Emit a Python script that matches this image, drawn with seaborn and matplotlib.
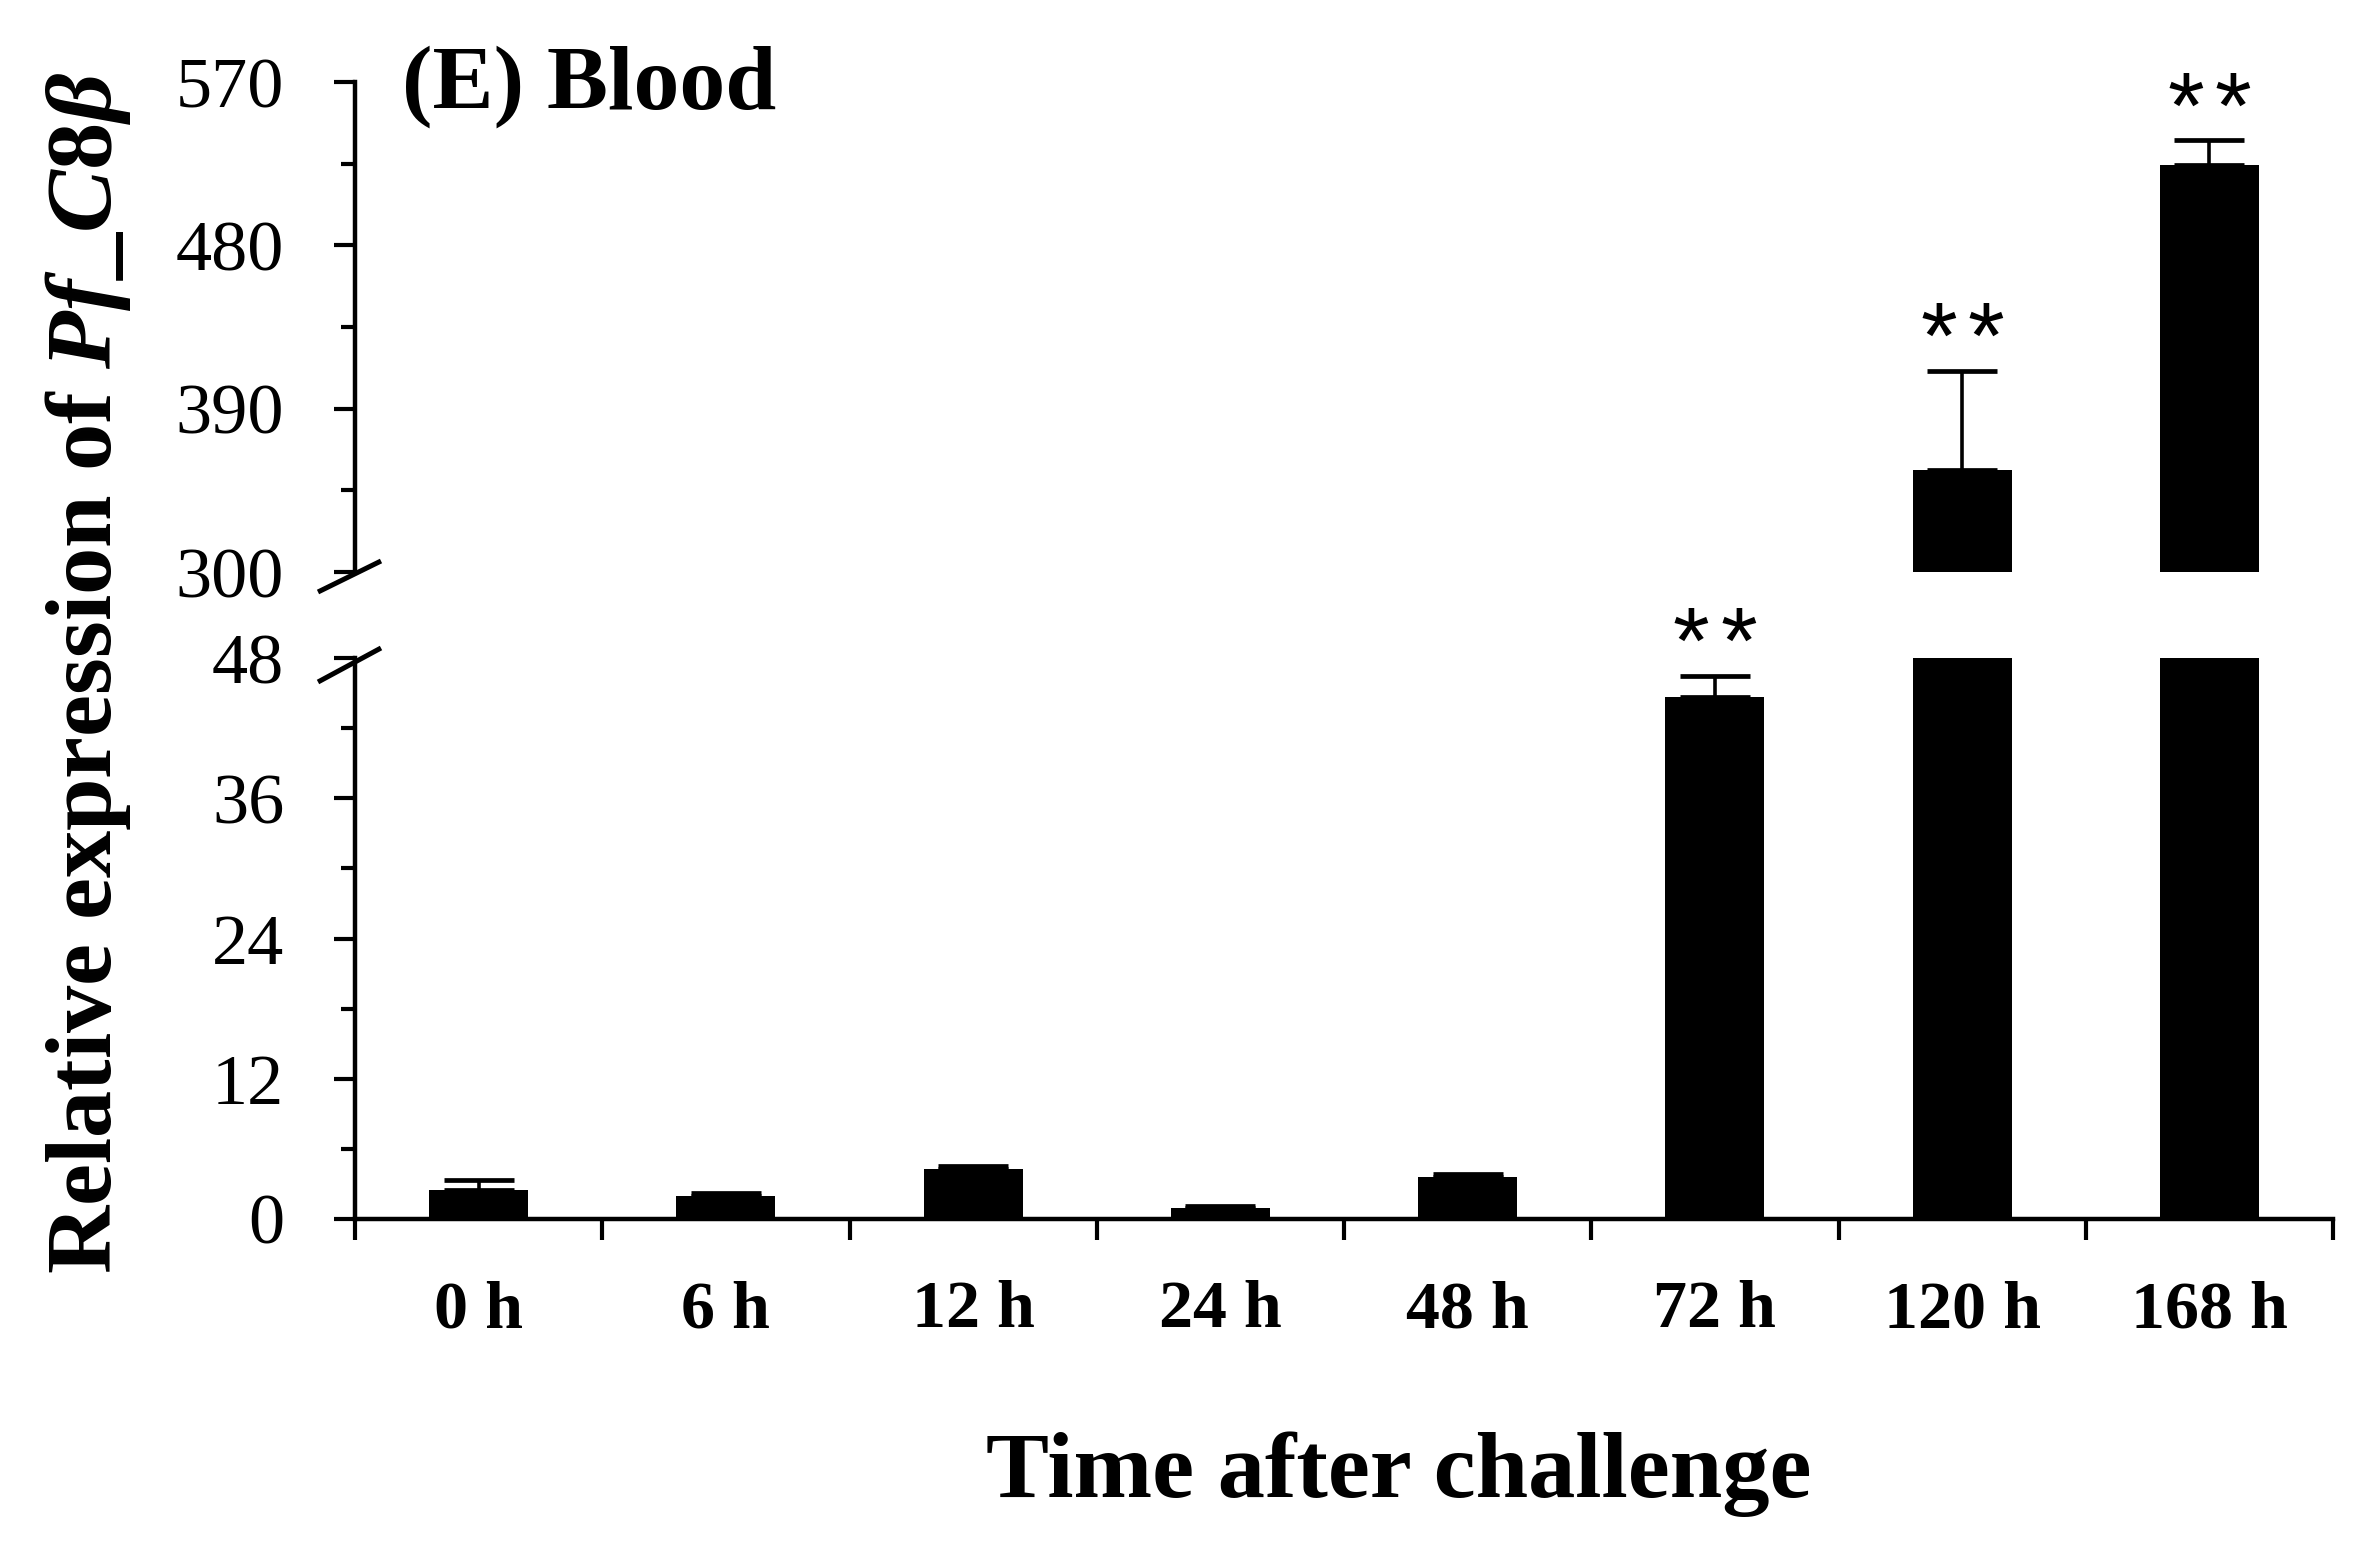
import numpy as np
import pandas as pd
import matplotlib
matplotlib.use("Agg")
import matplotlib.pyplot as plt
import seaborn as sns
from matplotlib.lines import Line2D

# values (mean and upper SD)
times = ["0 h", "6 h", "12 h", "24 h", "48 h", "72 h", "120 h", "168 h"]
expression = [2.5, 2.0, 4.3, 0.9, 3.6, 44.7, 356, 524]
sd = [0.8, 0.2, 0.25, 0.2, 0.25, 1.8, 55, 14]
signif = ["", "", "", "", "", "**", "**", "**"]

top_ticks = [300, 390, 480, 570]
top_minor = [345, 435, 525]
bot_ticks = [0, 12, 24, 36, 48]
bot_minor = [6, 18, 30, 42]

df = pd.DataFrame({"time": times, "expr": expression, "sd": sd})

sns.set_style("ticks", {"text.color": "black", "axes.labelcolor": "black",
                        "xtick.color": "black", "ytick.color": "black",
                        "axes.edgecolor": "black"})
plt.rcParams["font.family"] = ["Liberation Serif", "DejaVu Serif"]
plt.rcParams["mathtext.fontset"] = "custom"
plt.rcParams["mathtext.rm"] = "Liberation Serif:bold"
plt.rcParams["mathtext.it"] = "Liberation Serif:italic:bold"
plt.rcParams["mathtext.bf"] = "Liberation Serif:bold"

W, H = 2365, 1548
fig = plt.figure(figsize=(W / 100, H / 100), dpi=100)
left = 355 / W
width = (2333 - 355) / W
ax_top = fig.add_axes([left, 1 - 572 / H, width, 490 / H])
ax_bot = fig.add_axes([left, 1 - 1219 / H, width, 561 / H])

n = len(times)
for ax in (ax_top, ax_bot):
    sns.barplot(data=df, x="time", y="expr", color="black", saturation=1,
                width=0.4, errorbar=None, linewidth=0, ax=ax)
    ax.errorbar(np.arange(n), df["expr"], yerr=[np.zeros(n), df["sd"]],
                fmt="none", ecolor="black", elinewidth=2.6, capsize=25,
                capthick=3.4, zorder=3)
    ax.set_xlim(-0.5, n - 0.5)
    ax.set_xlabel("")
    ax.set_ylabel("")
    sns.despine(ax=ax)
    for sp in ax.spines.values():
        sp.set_linewidth(3.2)
    ax.tick_params(axis="y", which="major", direction="out", length=15,
                   width=3, pad=36, labelsize=52, left=True)
    ax.tick_params(axis="y", which="minor", direction="out", length=10,
                   width=3, left=True)

ax_top.set_ylim(300, 570)
ax_top.set_yticks(top_ticks)
ax_top.set_yticks(top_minor, minor=True)
ax_top.spines["bottom"].set_visible(False)
ax_top.tick_params(axis="x", which="both", bottom=False, labelbottom=False)

ax_bot.set_ylim(0, 48)
ax_bot.set_yticks(bot_ticks)
ax_bot.set_yticks(bot_minor, minor=True)
ax_bot.set_xticks(np.arange(n))
ax_bot.set_xticklabels(times, fontweight="bold", fontsize=49)
ax_bot.set_xticks(np.arange(-0.5, n), minor=True)
ax_bot.tick_params(axis="x", which="major", length=0, pad=44, bottom=True)
ax_bot.tick_params(axis="x", which="minor", direction="out", length=15,
                   width=3, bottom=True)

# significance stars, one glyph at a time so they sit a little apart
for i, s in enumerate(signif):
    if not s:
        continue
    top = expression[i] + sd[i]
    ax = ax_top if top > 300 else ax_bot
    offsets = (np.arange(len(s)) - (len(s) - 1) / 2) * 34
    for ch, dx in zip(s, offsets):
        ax.annotate(ch, (i, top), xytext=(dx, 2), textcoords="offset points",
                    ha="center", va="baseline", fontsize=68,
                    family="Liberation Sans", annotation_clip=False)

# axis break marks
for y0, y1 in [(592, 561), (682, 648)]:
    fig.add_artist(Line2D([318 / W, 381 / W], [1 - y0 / H, 1 - y1 / H],
                          transform=fig.transFigure, color="black",
                          linewidth=3.6, solid_capstyle="butt"))

fig.text(402 / W, 1 - 109 / H, "(E) Blood", fontsize=66, fontweight="bold",
         ha="left", va="baseline")
fig.text(1399 / W, 1 - 1497 / H, "Time after challenge", fontsize=68,
         fontweight="bold", ha="center", va="baseline")
fig.text(88 / W, 1 - 673 / H, r"Relative expression of $\mathit{Pf\_C8\beta}$",
         fontsize=68, fontweight="bold", rotation=90, ha="center", va="center")

fig.savefig("out.png", dpi=100)
